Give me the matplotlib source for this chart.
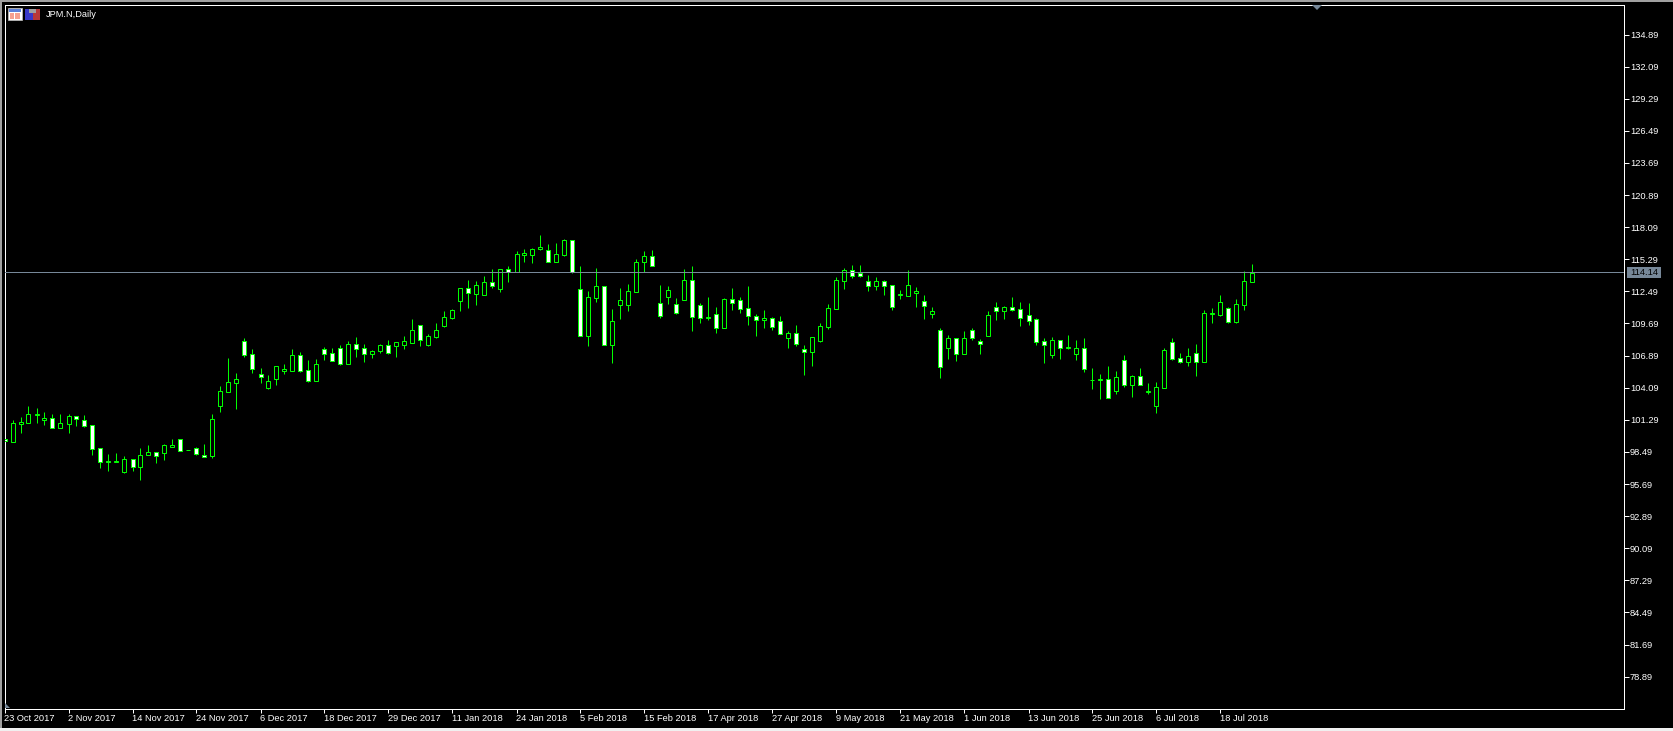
import matplotlib
matplotlib.use('Agg')
import matplotlib.pyplot as plt
from matplotlib.patches import Rectangle, Polygon

plt.rcParams['font.family'] = ['Liberation Sans', 'DejaVu Sans']

# Daily candles
opens = [
    99.59, 99.38, 100.95, 101.04, 101.74, 101.30, 101.42, 100.60, 100.95, 101.59,
    101.24, 100.81, 98.80, 97.64, 97.58, 96.77, 97.85, 97.21, 98.19, 98.46,
    98.43, 98.95, 99.62, 98.63, 98.80, 98.19, 98.17, 102.52, 103.74, 104.53,
    108.13, 107.00, 105.26, 104.09, 104.88, 105.58, 105.58, 106.91, 105.60, 104.70,
    107.44, 107.09, 107.52, 106.19, 107.87, 107.52, 107.06, 107.32, 107.78, 107.75,
    107.84, 108.02, 109.53, 107.84, 108.54, 109.50, 110.20, 111.68, 112.76, 112.29,
    112.20, 113.28, 112.73, 114.41, 114.21, 115.69, 115.69, 116.19, 116.07, 115.08,
    115.69, 116.94, 112.67, 108.63, 111.94, 112.93, 107.84, 111.33, 111.33, 112.46,
    115.08, 115.55, 111.45, 112.03, 111.36, 111.77, 113.45, 111.27, 110.17, 110.49,
    109.33, 111.80, 111.71, 111.01, 110.31, 110.02, 110.14, 109.88, 108.45, 108.83,
    107.44, 107.23, 108.19, 109.41, 110.98,
    113.43, 114.33, 114.12, 113.37, 112.99, 113.37, 113.02, 112.15, 112.12, 112.38,
    111.62, 110.55, 109.09, 107.58, 108.40, 107.06, 109.09, 108.13, 108.63, 111.10,
    110.81, 111.10, 110.93, 110.40, 110.05, 108.13, 106.97, 108.22, 107.52, 107.06,
    107.52, 104.79, 104.79, 104.82, 103.83, 106.48, 104.36, 105.08, 103.69, 102.52,
    104.09, 108.05, 106.65, 106.36, 107.09, 106.36, 110.55, 110.46, 111.01, 109.85,
    111.33, 113.34,
]
highs = [
    99.59, 101.27, 101.53, 102.49, 102.32, 101.97, 101.80, 101.80, 101.80, 101.59,
    101.71, 100.81, 98.80, 98.31, 98.40, 98.14, 97.87, 98.83, 99.10, 98.46,
    99.18, 99.62, 99.62, 98.63, 98.89, 99.18, 101.77, 104.21, 106.68, 105.37,
    108.43, 107.47, 105.78, 105.20, 105.95, 106.16, 107.47, 107.20, 106.50, 106.59,
    107.64, 107.55, 107.81, 108.16, 108.51, 107.90, 107.38, 107.90, 108.25, 108.07,
    108.60, 110.08, 109.53, 108.74, 109.73, 110.78, 110.92, 112.81, 113.48, 113.40,
    113.83, 114.41, 114.41, 114.70, 115.98, 116.19, 116.27, 117.41, 116.62, 116.71,
    117.03, 116.94, 114.70, 112.52, 114.53, 112.93, 110.95, 112.78, 113.13, 115.31,
    116.01, 116.10, 113.05, 112.96, 111.91, 114.41, 114.70, 111.45, 112.00, 111.10,
    111.88, 112.78, 111.97, 112.96, 110.52, 110.87, 110.23, 110.34, 109.01, 109.56,
    107.81, 108.51, 109.70, 111.39, 113.74,
    114.53, 114.79, 114.79, 113.92, 113.75, 113.45, 113.02, 112.61, 114.36, 112.87,
    112.18, 111.13, 109.27, 108.69, 108.40, 109.04, 109.27, 108.34, 110.78, 111.59,
    111.22, 112.00, 111.59, 111.48, 110.14, 108.43, 108.51, 108.22, 108.69, 108.25,
    108.43, 105.78, 105.29, 105.98, 105.55, 106.94, 105.20, 105.81, 104.50, 104.59,
    107.55, 108.43, 107.12, 107.55, 107.90, 110.87, 111.04, 112.18, 111.10, 111.83,
    114.24, 114.88,
]
lows = [
    99.41, 99.38, 100.17, 101.04, 101.04, 100.87, 100.60, 100.60, 100.17, 100.78,
    100.69, 98.25, 97.11, 96.85, 97.58, 96.68, 96.85, 96.07, 98.19, 97.55,
    97.82, 98.95, 98.60, 98.63, 98.22, 98.02, 97.99, 102.00, 103.74, 102.26,
    106.80, 105.40, 104.53, 103.98, 104.32, 105.31, 105.58, 105.49, 104.62, 104.70,
    106.50, 106.45, 106.07, 106.19, 106.77, 106.33, 106.68, 107.12, 107.06, 106.77,
    107.47, 108.02, 107.73, 107.76, 108.43, 109.38, 110.08, 110.78, 111.04, 111.30,
    112.20, 112.81, 112.44, 113.31, 114.21, 115.05, 114.97, 116.10, 115.02, 115.08,
    115.60, 114.12, 108.63, 107.73, 111.57, 107.84, 106.24, 110.08, 110.78, 112.46,
    114.18, 114.67, 110.17, 111.39, 110.55, 111.77, 109.04, 109.73, 109.99, 108.86,
    109.33, 110.87, 110.60, 109.56, 108.60, 109.30, 109.12, 108.80, 107.55, 107.73,
    105.20, 105.98, 108.07, 109.21, 110.98,
    112.70, 113.66, 113.77, 112.52, 112.61, 112.18, 110.90, 111.83, 112.12, 111.13,
    110.08, 110.17, 104.94, 106.59, 106.42, 107.06, 108.25, 107.03, 108.63, 110.00,
    110.08, 110.78, 109.47, 109.56, 107.81, 106.25, 106.68, 106.59, 107.44, 106.51,
    105.46, 103.98, 103.11, 103.22, 103.54, 104.15, 103.28, 104.36, 103.54, 101.88,
    104.09, 106.54, 106.25, 105.98, 105.11, 106.36, 109.73, 110.37, 109.73, 109.73,
    110.87, 113.34,
]
closes = [
    99.41, 100.98, 101.09, 101.77, 101.79, 101.42, 100.60, 100.98, 101.59, 101.39,
    100.78, 98.77, 97.64, 97.70, 97.67, 97.85, 97.21, 98.19, 98.46, 98.17,
    99.07, 99.07, 98.60, 98.63, 98.34, 98.02, 101.33, 103.77, 104.56, 104.82,
    106.97, 105.75, 104.99, 104.64, 105.95, 105.69, 106.91, 105.58, 104.70, 106.13,
    107.06, 106.45, 106.19, 107.87, 107.49, 107.06, 107.26, 107.78, 107.15, 108.04,
    108.13, 109.09, 108.28, 108.57, 109.09, 110.23, 110.84, 112.76, 112.32, 113.02,
    113.28, 112.93, 114.41, 114.21, 115.72, 115.81, 116.16, 116.33, 115.08, 115.72,
    116.94, 114.18, 108.63, 111.97, 112.93, 107.84, 109.88, 111.71, 112.49, 115.02,
    115.55, 114.67, 110.37, 112.58, 110.63, 113.45, 110.29, 110.20, 110.23, 109.33,
    111.80, 111.45, 110.98, 110.37, 110.02, 110.14, 109.41, 108.80, 108.83, 107.93,
    107.23, 108.48, 109.44, 111.01, 113.45,
    114.33, 113.86, 113.86, 112.99, 113.37, 112.99, 111.16, 112.26, 113.02, 112.50,
    111.25, 110.75, 105.93, 108.40, 107.06, 108.40, 108.45, 107.93, 110.40, 110.81,
    111.10, 110.90, 110.20, 109.94, 108.11, 107.84, 108.22, 107.58, 107.61, 107.52,
    105.75, 104.79, 104.85, 103.22, 105.00, 104.36, 105.08, 104.36, 103.77, 104.12,
    107.35, 106.62, 106.36, 106.83, 106.36, 110.58, 110.61, 111.54, 109.85, 111.36,
    113.37, 114.12,
]

price_ticks = [134.89, 132.09, 129.29, 126.49, 123.69, 120.89, 118.09, 115.29, 112.49,
               109.69, 106.89, 104.09, 101.29, 98.49, 95.69, 92.89, 90.09, 87.29,
               84.49, 81.69, 78.89]
date_labels = ['23 Oct 2017', '2 Nov 2017', '14 Nov 2017', '24 Nov 2017', '6 Dec 2017',
               '18 Dec 2017', '29 Dec 2017', '11 Jan 2018', '24 Jan 2018', '5 Feb 2018',
               '15 Feb 2018', '17 Apr 2018', '27 Apr 2018', '9 May 2018', '21 May 2018',
               '1 Jun 2018', '13 Jun 2018', '25 Jun 2018', '6 Jul 2018', '18 Jul 2018']
last_price = 114.14
symbol = 'JPM.N,Daily'

W, H = 1674, 731
GREEN = '#00ff00'
SLATE = '#778899'
ONE_PX = 0.72  # one pixel at dpi 100
FONT = 6.7

fig = plt.figure(figsize=(W / 100, H / 100), dpi=100, facecolor='black')

# plot area in pixels: left 4.5, right 1624.5, top 4.5, bottom 708.5
ax = fig.add_axes([4.5 / W, 1 - 708.5 / H, 1620 / W, 704 / H], facecolor='black')
ax.set_xlim(0, 1620 / 8)
px_per_unit = 11.468
ax.set_ylim(134.89 - (708.5 - 34.5) / px_per_unit, 134.89 + 30 / px_per_unit)

idx = list(range(len(opens)))

# wicks first, the bodies cover them
wicks = ax.vlines(idx, lows, highs, colors=GREEN, linewidth=ONE_PX, zorder=2)
wicks.set_snap(True)

for i in idx:
    top = max(opens[i], closes[i])
    bottom = min(opens[i], closes[i])
    face = 'white' if closes[i] < opens[i] else 'black'
    body = Rectangle((i - 0.25, bottom), 0.5, top - bottom, facecolor=face,
                     edgecolor=GREEN, linewidth=ONE_PX, snap=True, zorder=3)
    ax.add_patch(body)

ax.axhline(last_price, color=SLATE, linewidth=ONE_PX, zorder=4)

for side in ['top', 'right', 'bottom', 'left']:
    ax.spines[side].set_color('white')
    ax.spines[side].set_linewidth(ONE_PX)

ax.yaxis.tick_right()
ax.set_yticks(price_ticks)
ax.set_yticklabels([f'{p:.2f}' for p in price_ticks])
ax.set_xticks(list(range(0, 8 * len(date_labels), 8)))
ax.set_xticklabels(date_labels, ha='left')
ax.tick_params(axis='y', colors='white', labelsize=FONT, length=3.6, width=ONE_PX, pad=0.2)
ax.tick_params(axis='x', colors='white', labelsize=FONT, length=3, width=ONE_PX, pad=0.8)

# terminal window bits drawn in pixel coordinates
chrome = fig.add_axes([0, 0, 1, 1], facecolor='none')
chrome.set_xlim(0, W)
chrome.set_ylim(H, 0)
chrome.axis('off')

chrome.add_patch(Rectangle((0, 0), W, 1.5, facecolor='#a0a0a0', edgecolor='none'))
chrome.add_patch(Rectangle((0, 0), 2.5, 728, facecolor='#a0a0a0', edgecolor='none'))
chrome.add_patch(Rectangle((0, 728), W, 3, facecolor='#f0f0f0', edgecolor='none'))

# last price box
chrome.add_patch(Rectangle((1627, 267), 34, 11, facecolor=SLATE, edgecolor='none'))
chrome.text(1644, 272.7, f'{last_price:.2f}', color='black', fontsize=FONT,
            ha='center', va='center')

# shift markers
chrome.add_patch(Polygon([(1312, 5), (1322, 5), (1317, 10)], facecolor=SLATE, edgecolor='none'))
chrome.add_patch(Polygon([(5, 703), (5, 708), (10, 708)], facecolor=SLATE, edgecolor='none'))

# the two small icons and the symbol name
chrome.add_patch(Rectangle((8, 8), 14, 12, facecolor='white', edgecolor='#c0c0c0', linewidth=0.5))
chrome.add_patch(Rectangle((9, 9), 12, 2.5, facecolor='#5a7fd8', edgecolor='none'))
chrome.add_patch(Rectangle((10, 12.5), 4.5, 6.5, facecolor='#f4a090', edgecolor='none'))
chrome.add_patch(Rectangle((15.5, 12.5), 5, 6.5, facecolor='#f4a090', edgecolor='none'))
chrome.add_patch(Rectangle((25, 9), 8, 11, facecolor='#3838c8', edgecolor='none'))
chrome.add_patch(Rectangle((33, 9), 7, 11, facecolor='#b83838', edgecolor='none'))
chrome.add_patch(Rectangle((29, 9), 7, 4, facecolor='#a0a0a0', edgecolor='none'))
chrome.text(45.5, 14.5, symbol, color='white', fontsize=FONT, ha='left', va='center')

fig.savefig('out.png', dpi=100, facecolor='black')
